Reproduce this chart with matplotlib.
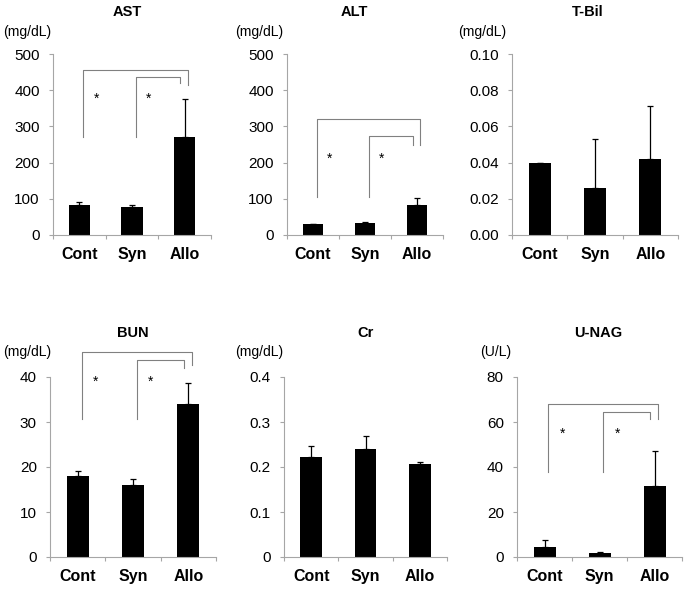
import matplotlib
matplotlib.use("Agg")
from matplotlib import pyplot as plt
from matplotlib.ticker import FormatStrFormatter

plt.rcParams['font.family'] = ['Liberation Sans', 'DejaVu Sans']

W, H = 687, 589
groups = ['Cont', 'Syn', 'Allo']

# values (mean, upper error bar end)
ast = [82, 78, 272]
ast_top = [90, 82, 375]
alt = [30, 34, 83]
alt_top = [31, 35, 101]
tbil = [0.040, 0.026, 0.042]
tbil_top = [0.040, 0.053, 0.071]
bun = [18.1, 15.9, 33.9]
bun_top = [19.2, 17.4, 38.6]
cr = [0.222, 0.240, 0.206]
cr_top = [0.246, 0.268, 0.212]
unag = [4.5, 1.7, 31.5]
unag_top = [7.7, 2.2, 47.0]

# brackets: (start y, outer top, outer end, inner top, inner end, star y)
ast_sig = (270, 455, 415, 437, 420, 375)
alt_sig = (106, 320, 250, 273, 250, 210)
bun_sig = (30.7, 45.5, 42.6, 43.8, 42.1, 39)
unag_sig = (38, 68, 61.5, 64.4, 61.5, 54.7)

panels = [
    # title, unit, values, tops, ymax, ystep, fmt, sig, box(px l,t,r,b), title xy, unit xy
    ('AST', '(mg/dL)', ast, ast_top, 500, 100, '%d', ast_sig, (53, 54, 211, 235), (127, 12), (3, 32)),
    ('ALT', '(mg/dL)', alt, alt_top, 500, 100, '%d', alt_sig, (287, 54, 443, 235), (354, 12), (235, 32)),
    ('T-Bil', '(mg/dL)', tbil, tbil_top, 0.10, 0.02, '%.2f', None, (512, 54, 678, 235), (588, 12), (458, 32)),
    ('BUN', '(mg/dL)', bun, bun_top, 40, 10, '%d', bun_sig, (50, 377, 216, 557), (133, 333), (3, 352)),
    ('Cr', '(mg/dL)', cr, cr_top, 0.4, 0.1, None, None, (284, 377, 447, 557), (366, 333), (235, 352)),
    ('U-NAG', '(U/L)', unag, unag_top, 80, 20, '%d', unag_sig, (517, 377, 682, 557), (598, 333), (480, 352)),
]

fig = plt.figure(figsize=(W / 100, H / 100), dpi=100)
spine_col = '#a6a6a6'
br_col = '#808080'

for title, unit, vals, tops, ymax, ystep, fmt, sig, box, txy, uxy in panels:
    l, t, r, b = box
    ax = fig.add_axes([l / W, 1 - b / H, (r - l) / W, (b - t) / H])
    x = range(len(groups))
    err = [[0] * 3, [tp - v for tp, v in zip(tops, vals)]]
    ax.bar(x, vals, width=0.4, color='black', zorder=2)
    ax.errorbar(x, vals, yerr=err, fmt='none', ecolor='black', elinewidth=0.9,
                capsize=2.5, capthick=0.9, zorder=3)
    ax.set_xlim(-0.5, 2.5)
    ax.set_ylim(0, ymax)
    n = int(round(ymax / ystep))
    ticks = [i * ystep for i in range(n + 1)]
    ax.set_yticks(ticks)
    if fmt:
        ax.yaxis.set_major_formatter(FormatStrFormatter(fmt))
    else:
        ax.set_yticklabels(['0'] + ['%.1f' % v for v in ticks[1:]])
    ax.set_xticks([-0.5, 0.5, 1.5, 2.5])
    ax.set_xticklabels([])
    ax.set_xticks([0, 1, 2], minor=True)
    ax.set_xticklabels(groups, minor=True, fontweight='bold', fontsize=11.5)
    for lab in ax.get_xticklabels(minor=True):
        lab.set_verticalalignment('baseline')
    ax.tick_params(axis='x', which='minor', length=0, pad=17)
    ax.tick_params(axis='x', which='major', length=3, color=spine_col, width=0.8)
    ax.tick_params(axis='y', length=3, color=spine_col, width=0.8, labelsize=11, pad=6.5)
    for s in ['top', 'right']:
        ax.spines[s].set_visible(False)
    for s in ['left', 'bottom']:
        ax.spines[s].set_color(spine_col)
        ax.spines[s].set_linewidth(0.8)

    if sig:
        y0, otop, oend, itop, iend, sy = sig
        ax.plot([0.07, 0.07, 2.06, 2.06], [y0, otop, otop, oend], color=br_col,
                lw=0.8, clip_on=False)
        ax.plot([1.07, 1.07, 1.92, 1.92], [y0, itop, itop, iend], color=br_col,
                lw=0.8, clip_on=False)
        ax.text(0.32, sy, '*', ha='center', va='center', fontsize=10)
        ax.text(1.32, sy, '*', ha='center', va='center', fontsize=10)

    fig.text(txy[0] / W, 1 - txy[1] / H, title, ha='center', va='center',
             fontweight='bold', fontsize=10.5)
    fig.text(uxy[0] / W, 1 - uxy[1] / H, unit, ha='left', va='center', fontsize=10)

fig.savefig('out.png', dpi=100)
